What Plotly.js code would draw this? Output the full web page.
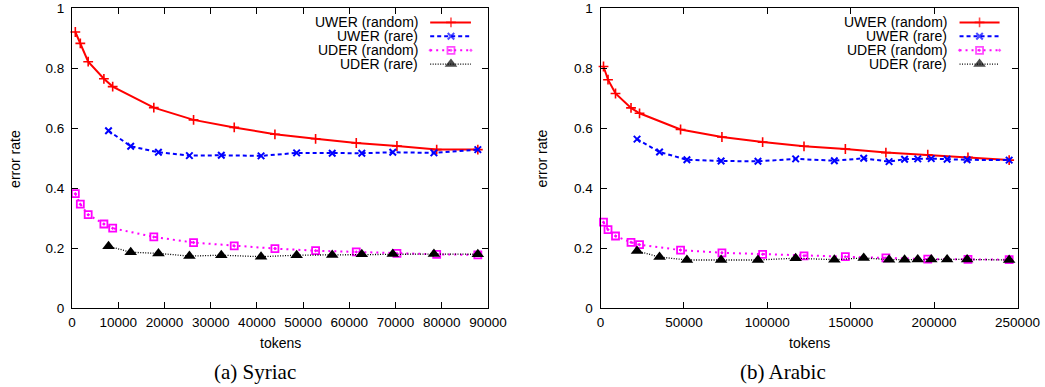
<!DOCTYPE html>
<html>
<head>
<meta charset="utf-8">
<script src="https://cdn.plot.ly/plotly-3.0.1.min.js"></script>
<style>
html,body{margin:0;padding:0;background:#fff;}
#chart{width:1045px;height:387px;}
</style>
</head>
<body>
<div id="chart"></div>
<script>
// ---- Data ----
const seriesNames = ["UWER (random)", "UWER (rare)", "UDER (random)", "UDER (rare)"];
const captions = ["(a) Syriac", "(b) Arabic"];
const xTitle = "tokens";
const yTitle = "error rate";

// Syriac
const syrXRandom = [720, 1800, 3500, 6900, 8800, 17700, 26300, 35100, 43900, 52700, 61500, 70300, 78900, 87800];
const syrUwerRandom = [0.920, 0.882, 0.821, 0.764, 0.738, 0.668, 0.627, 0.602, 0.579, 0.564, 0.550, 0.540, 0.528, 0.528];
const syrUderRandom = [0.381, 0.346, 0.311, 0.280, 0.266, 0.237, 0.218, 0.207, 0.198, 0.191, 0.187, 0.182, 0.179, 0.177];
const syrXRare = [7900, 12700, 18700, 25400, 32300, 40900, 48600, 56300, 62700, 69400, 78300, 87800];
const syrUwerRare = [0.591, 0.539, 0.519, 0.508, 0.509, 0.507, 0.517, 0.516, 0.516, 0.519, 0.517, 0.528];
const syrUderRare = [0.206, 0.186, 0.182, 0.173, 0.176, 0.171, 0.176, 0.177, 0.179, 0.180, 0.180, 0.179];

// Arabic
const araXRandom = [1800, 4500, 9000, 18300, 23400, 48000, 72800, 97200, 122000, 146800, 171100, 196200, 220300, 245000];
const araUwerRandom = [0.805, 0.761, 0.715, 0.667, 0.649, 0.595, 0.570, 0.553, 0.539, 0.530, 0.518, 0.511, 0.502, 0.493];
const araUderRandom = [0.286, 0.261, 0.240, 0.219, 0.211, 0.193, 0.184, 0.179, 0.174, 0.171, 0.167, 0.163, 0.162, 0.161];
const araXRare = [21900, 35400, 51800, 72300, 94400, 117000, 140200, 157800, 173000, 182300, 190200, 198300, 207800, 219800, 245000];
const araUwerRare = [0.563, 0.520, 0.494, 0.490, 0.489, 0.497, 0.491, 0.499, 0.488, 0.496, 0.497, 0.498, 0.496, 0.494, 0.493];
const araUderRare = [0.190, 0.170, 0.160, 0.160, 0.160, 0.166, 0.161, 0.167, 0.161, 0.161, 0.162, 0.162, 0.162, 0.162, 0.160];

const syrTicks = [0, 10000, 20000, 30000, 40000, 50000, 60000, 70000, 80000, 90000];
const araTicks = [0, 50000, 100000, 150000, 200000, 250000];
const yTicks = [0, 0.2, 0.4, 0.6, 0.8, 1];

// ---- Styles ----
const styles = [
  {line:{color:'#ff0000', width:2, dash:'solid'}, marker:{symbol:'cross-thin', size:7, color:'#ff0000', line:{color:'#ff0000', width:1.6}}},
  {line:{color:'#0000ff', width:2, dash:'4px,3px'}, marker:{symbol:'x-thin', size:6.5, color:'#0000ff', line:{color:'#0000ff', width:2}}},
  {line:{color:'#ff00ff', width:2, dash:'2px,4px'}, marker:{symbol:'square-open-dot', size:7, color:'#ff00ff', line:{color:'#ff00ff', width:1.8}}},
  {line:{color:'#000000', width:1.3, dash:'1px,1.5px'}, marker:{symbol:'triangle-up', size:11, color:'#000000', line:{color:'#000000', width:0}}}
];

function series(x, y, i, xa, ya) {
  return {x:x, y:y, type:'scatter', mode:'lines+markers', name:seriesNames[i],
    xaxis:xa, yaxis:ya, line:styles[i].line, marker:styles[i].marker,
    cliponaxis:false, showlegend:false, hoverinfo:'skip'};
}

const traces = [
  series(syrXRandom, syrUwerRandom, 0, 'x', 'y'),
  series(syrXRare, syrUwerRare, 1, 'x', 'y'),
  series(syrXRandom, syrUderRandom, 2, 'x', 'y'),
  series(syrXRare, syrUderRare, 3, 'x', 'y'),
  series(araXRandom, araUwerRandom, 0, 'x2', 'y2'),
  series(araXRare, araUwerRare, 1, 'x2', 'y2'),
  series(araXRandom, araUderRandom, 2, 'x2', 'y2'),
  series(araXRare, araUderRare, 3, 'x2', 'y2')
];

// gnuplot-style key (text right-aligned, sample on the right), drawn on hidden 0..1 overlay axes
const keyCfg = [
  {xa:'x3', ya:'y3', textX:0.8365, s0:0.861, sm:0.911, s1:0.959},
  {xa:'x4', ya:'y4', textX:0.8365, s0:0.861, sm:0.909, s1:0.957}
];
const keyRows = [0.952, 0.906, 0.859, 0.813];

const annotations = [];
keyCfg.forEach(k => {
  seriesNames.forEach((nm, i) => {
    const st = styles[i];
    traces.push({x:[k.s0, k.sm, k.s1], y:[keyRows[i], keyRows[i], keyRows[i]],
      type:'scatter', mode:'lines+markers', xaxis:k.xa, yaxis:k.ya,
      line:st.line, marker:Object.assign({}, st.marker, {size:[0, st.marker.size, 0]}),
      showlegend:false, hoverinfo:'skip', cliponaxis:false});
    annotations.push({xref:k.xa, yref:k.ya, x:k.textX, y:keyRows[i], text:nm,
      showarrow:false, xanchor:'right', yanchor:'middle',
      font:{family:'Liberation Sans, Arial, sans-serif', size:14, color:'#000'}});
  });
});

// axis titles and captions
const font14 = {family:'Liberation Sans, Arial, sans-serif', size:14, color:'#000'};
const capFont = {family:'Liberation Serif, Times New Roman, serif', size:21, color:'#000'};
annotations.push(
  {xref:'x domain', yref:'paper', x:0.5, y:-0.117, text:xTitle, showarrow:false, xanchor:'center', yanchor:'middle', font:font14},
  {xref:'x2 domain', yref:'paper', x:0.5, y:-0.117, text:xTitle, showarrow:false, xanchor:'center', yanchor:'middle', font:font14},
  {xref:'paper', yref:'paper', x:15/1045, y:0.497, text:yTitle, showarrow:false, textangle:-90, xanchor:'center', yanchor:'middle', font:font14},
  {xref:'paper', yref:'paper', x:541.5/1045, y:0.497, text:yTitle, showarrow:false, textangle:-90, xanchor:'center', yanchor:'middle', font:font14},
  {xref:'paper', yref:'paper', x:255/1045, y:(308-372)/300, text:captions[0], showarrow:false, xanchor:'center', yanchor:'middle', font:capFont},
  {xref:'paper', yref:'paper', x:783/1045, y:(308-372)/300, text:captions[1], showarrow:false, xanchor:'center', yanchor:'middle', font:capFont}
);

const tickFont = {family:'Liberation Sans, Arial, sans-serif', size:13.5, color:'#000'};
function xAxis(domain, ticks, maxv, anchor) {
  return {domain:domain, range:[0, maxv], anchor:anchor, tickmode:'array', tickvals:ticks,
    ticktext:ticks.map(String), ticks:'inside', ticklen:6, tickcolor:'#000', tickwidth:1,
    showline:true, linecolor:'#000', linewidth:1, mirror:'ticks', showgrid:false, zeroline:false,
    tickfont:tickFont, ticklabelstandoff:2, fixedrange:true};
}
function yAxis(anchor) {
  return {domain:[0,1], range:[0,1], anchor:anchor, tickmode:'array', tickvals:yTicks,
    ticktext:yTicks.map(String), ticks:'inside', ticklen:6, tickcolor:'#000', tickwidth:1,
    showline:true, linecolor:'#000', linewidth:1, mirror:'ticks', showgrid:false, zeroline:false,
    tickfont:tickFont, ticklabelstandoff:4, fixedrange:true};
}
const hidden = {range:[0,1], visible:false, showgrid:false, zeroline:false, fixedrange:true};

const layout = {
  width:1045, height:387,
  margin:{l:0, r:0, t:8, b:79},
  paper_bgcolor:'#fff', plot_bgcolor:'#fff',
  showlegend:false,
  xaxis: xAxis([72/1045, 488/1045], syrTicks, 90000, 'y'),
  yaxis: yAxis('x'),
  xaxis2: xAxis([600.5/1045, 1017.5/1045], araTicks, 250000, 'y2'),
  yaxis2: yAxis('x2'),
  xaxis3: Object.assign({overlaying:'x', anchor:'y3'}, hidden),
  yaxis3: Object.assign({overlaying:'y', anchor:'x3'}, hidden),
  xaxis4: Object.assign({overlaying:'x2', anchor:'y4'}, hidden),
  yaxis4: Object.assign({overlaying:'y2', anchor:'x4'}, hidden),
  annotations: annotations
};

Plotly.newPlot('chart', traces, layout, {displayModeBar:false, staticPlot:true});
</script>
</body>
</html>
